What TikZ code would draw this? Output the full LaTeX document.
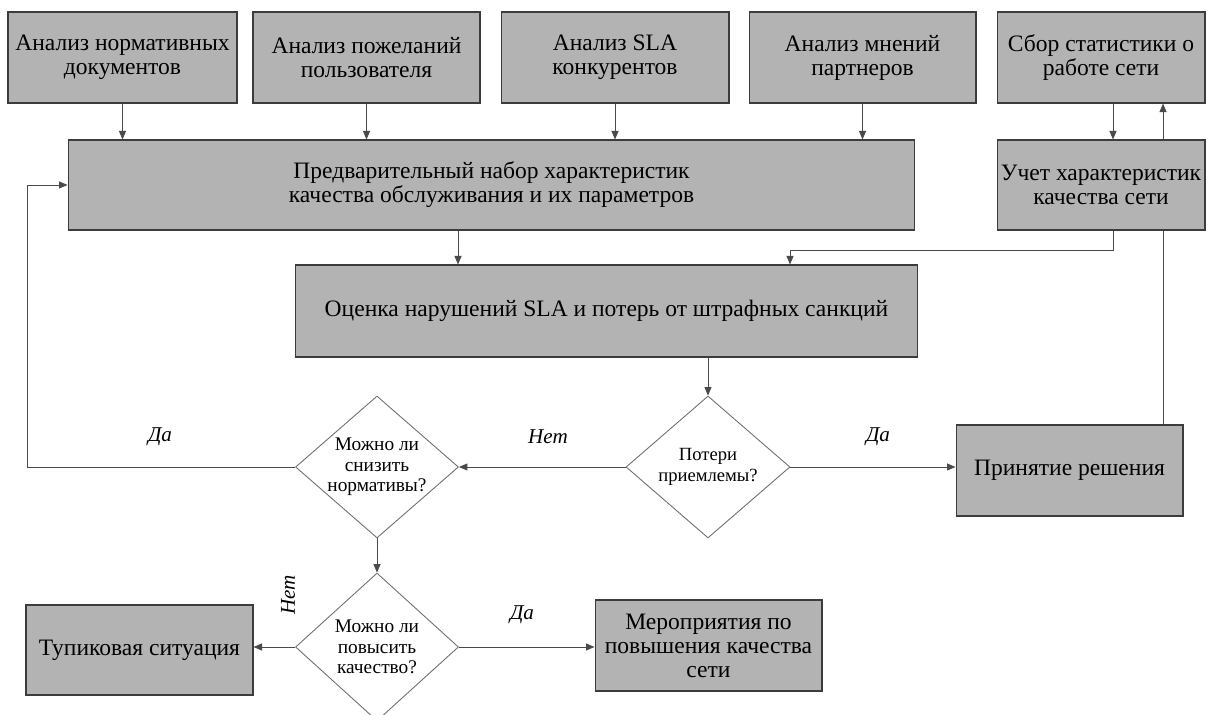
\documentclass[tikz,border=0pt]{standalone}
\usepackage{fontspec}
\setmainfont{Liberation Serif}
\usepackage{tikz}
\usetikzlibrary{arrows.meta,positioning,shapes.geometric,calc}
\definecolor{boxgray}{HTML}{B3B3B3}
\definecolor{ink}{HTML}{3C3C3C}
\definecolor{wire}{HTML}{4A4A4A}
\tikzset{
  box/.style={draw=ink,fill=boxgray,line width=0.6pt,align=center,
              inner sep=1pt,font=\fontsize{13.4}{13.7}\selectfont},
  decision/.style={diamond,draw=wire!80,fill=white,line width=0.5pt,
                   align=center,inner sep=-4pt,aspect=1.15,
                   minimum width=3.26cm,minimum height=2.84cm,
                   font=\fontsize{11}{11.6}\selectfont},
  arr/.style={-{Triangle[length=1.7mm,width=1.4mm]},line width=0.5pt,
              draw=wire},
  lbl/.style={font=\fontsize{12}{14}\selectfont\itshape}
}

\begin{document}
\begin{tikzpicture}[x=0.02cm,y=-0.02cm]
    \path[use as bounding box] (0,0) rectangle (1216,715);

    % top row
    \node[box,minimum width=4.58cm,minimum height=1.82cm] (norm) at (122.5,57.5)
      {Анализ нормативных\\документов};
    \node[box,minimum width=4.54cm,minimum height=1.82cm] (user) at (366.5,57.5)
      {Анализ пожеланий\\пользователя};
    \node[box,minimum width=4.56cm,minimum height=1.82cm] (sla) at (615,57.5)
      {Анализ SLA\\конкурентов};
    \node[box,minimum width=4.54cm,minimum height=1.82cm] (partn) at (862.5,57.5)
      {Анализ мнений\\партнеров};
    \node[box,minimum width=4.16cm,minimum height=1.82cm] (stat) at (1101,57.5)
      {Сбор статистики о\\работе сети};

    \node[box,minimum width=16.94cm,minimum height=1.8cm] (nabor) at (491.5,185)
      {Предварительный набор характеристик\\качества обслуживания и их параметров};
    \node[box,minimum width=12.46cm,minimum height=1.84cm] (ocenka) at (606.5,311)
      {Оценка нарушений SLA и потерь от штрафных санкций};

    \node[decision,minimum width=3.28cm,
          font=\fontsize{10.6}{12}\selectfont] (poteri) at (708,467)
      {Потери\\приемлемы?};
    \node[decision] (snizit) at (377,467)
      {Можно ли\\снизить\\нормативы?};
    \node[decision,minimum height=2.96cm] (povys) at (377,647)
      {Можно ли\\повысить\\качество?};

    \node[box,minimum width=4.54cm,minimum height=1.82cm] (prinyat) at (1069.5,470.5)
      {Принятие решения};
    \node[box,minimum width=4.54cm,minimum height=1.8cm] (tupik) at (139.5,650)
      {Тупиковая ситуация};
    \node[box,minimum width=4.54cm,minimum height=1.82cm] (merop) at (708.5,645.5)
      {Мероприятия по\\повышения качества\\сети};

    % feedback line runs behind the Uchet box
    \coordinate (up) at ($(prinyat.north)+(93.5,0)$);
    \draw[arr] (up) -- (up |- stat.south);
    \node[box,minimum width=4.16cm,minimum height=1.8cm] (uchet) at (1101,185)
      {Учет характеристик\\качества сети};

    \foreach \n in {norm,user,sla,partn}
      \draw[arr] (\n.south) -- (\n.south |- nabor.north);
    \coordinate (dn) at ($(stat.south)+(12,0)$);
    \draw[arr] (dn) -- (dn |- uchet.north);
    \coordinate (dn2) at ($(uchet.south)+(12,0)$);
    \coordinate (knee) at (790,250);
    \draw[arr] (dn2) |- (knee) -- (knee |- ocenka.north);
    \coordinate (n1) at ($(nabor.south)+(-33.5,0)$);
    \draw[arr] (n1) -- (n1 |- ocenka.north);
    \draw[arr] (poteri.north |- ocenka.south) -- (poteri.north);

    \draw[arr] (poteri.east) -- (poteri.east -| prinyat.west);
    \draw[arr] (poteri.west) -- (snizit.east);
    \coordinate (back) at (27,185);
    \draw[arr] (snizit.west) -| (back) -- (nabor.west);
    \draw[arr] (snizit.south) -- (povys.north);
    \draw[arr] (povys.west) -- (povys.west -| tupik.east);
    \draw[arr] (povys.east) -- (povys.east -| merop.west);

    \node[lbl] (da1) at (878,437) {Да};
    \node[lbl] (net1) at (548,437) {Нет};
    \node[lbl] (da2) at (160,437) {Да};
    \node[lbl] (da3) at (522,615) {Да};
    \node[lbl,rotate=90] (net2) at (288,595) {Нет};
\end{tikzpicture}
\end{document}
